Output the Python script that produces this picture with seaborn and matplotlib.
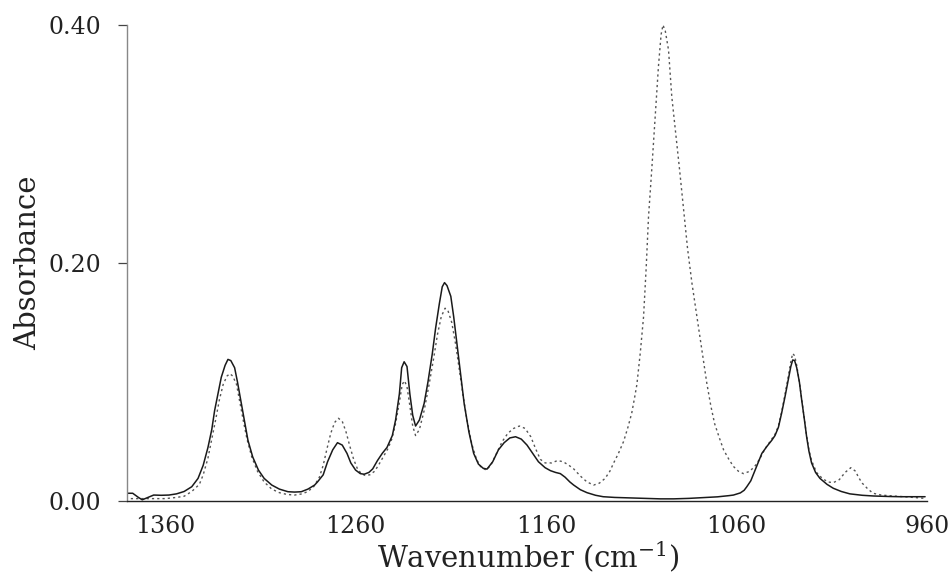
import matplotlib
matplotlib.use("Agg")
import matplotlib.pyplot as plt
from matplotlib.ticker import FixedLocator, MultipleLocator
import seaborn as sns
import pandas as pd

# ---- data ----
wn_solid = [1380, 1377, 1374, 1372, 1369, 1366, 1362, 1358, 1354, 1350, 1346, 1342.7, 1340,
            1337.5, 1335.5, 1334, 1332, 1330.5, 1328.5, 1327, 1325.5, 1323.5, 1322, 1320, 1318,
            1316.5, 1314, 1311, 1308, 1304, 1300, 1295.5, 1292, 1288.5, 1285, 1281.5, 1280,
            1277, 1274.7, 1272, 1269.5, 1267, 1264.5, 1262.5, 1260, 1257.5, 1255.5, 1253, 1251,
            1248.5, 1246, 1243.5, 1240.7, 1239, 1237, 1235.8, 1234.5, 1233, 1231.5, 1230,
            1228.5, 1226.5, 1224, 1222, 1219.7, 1218, 1216, 1214.5, 1213.3, 1212, 1210, 1208.5,
            1207, 1205, 1203, 1200.5, 1198, 1195.5, 1193, 1191, 1188, 1185, 1182, 1179, 1176,
            1173, 1170, 1167, 1164, 1160.5, 1157.7, 1155, 1152.5, 1150, 1147.5, 1145.5, 1142,
            1138.5, 1134, 1130, 1124, 1116, 1108, 1100, 1093, 1085, 1078, 1070, 1064, 1061.6,
            1058, 1056, 1054.6, 1052.5, 1051, 1049, 1046.7, 1044, 1041.5, 1039.8, 1038, 1036.3,
            1034.5, 1032.8, 1031.5, 1030.5, 1029.5, 1028.4, 1027, 1025.8, 1024.5, 1023.2, 1022,
            1020.6, 1018.5, 1016.2, 1012.5, 1009.2, 1005, 1000.5, 994, 988, 980, 974, 967, 961]
abs_solid = [0.0065, 0.0065, 0.003, 0.001, 0.003, 0.005, 0.0048, 0.005, 0.006, 0.008, 0.012,
             0.019, 0.030, 0.045, 0.060, 0.076, 0.092, 0.104, 0.114, 0.119, 0.118, 0.112, 0.100,
             0.082, 0.064, 0.051, 0.037, 0.026, 0.019, 0.0134, 0.010, 0.0078, 0.0075, 0.0078,
             0.010, 0.0134, 0.016, 0.022, 0.033, 0.043, 0.049, 0.047, 0.040, 0.032, 0.026, 0.023,
             0.0225, 0.024, 0.027, 0.034, 0.040, 0.045, 0.055, 0.068, 0.090, 0.112, 0.117, 0.113,
             0.090, 0.072, 0.063, 0.068, 0.082, 0.100, 0.124, 0.145, 0.166, 0.180, 0.1835, 0.181,
             0.172, 0.155, 0.135, 0.108, 0.082, 0.058, 0.040, 0.031, 0.0275, 0.0268, 0.033, 0.043,
             0.049, 0.053, 0.054, 0.052, 0.047, 0.040, 0.033, 0.028, 0.0255, 0.024, 0.023, 0.020,
             0.016, 0.0134, 0.0095, 0.007, 0.0048, 0.0036, 0.003, 0.0026, 0.0022, 0.0018, 0.0018,
             0.0022, 0.0028, 0.0035, 0.0045, 0.005, 0.0068, 0.009, 0.012, 0.017, 0.023, 0.031,
             0.040, 0.046, 0.051, 0.055, 0.062, 0.074, 0.088, 0.102, 0.113, 0.1185, 0.118, 0.112,
             0.100, 0.085, 0.070, 0.054, 0.042, 0.032, 0.024, 0.019, 0.014, 0.0107, 0.008, 0.006,
             0.0048, 0.0042, 0.0038, 0.0036, 0.0036, 0.0036]

wn_dotted = [1378, 1372, 1366, 1360, 1354, 1350, 1346, 1342, 1340, 1337.5, 1335.5, 1333.5,
             1331.5, 1329.5, 1327.5, 1326, 1324.5, 1322.5, 1321, 1319, 1317, 1314.5, 1311.5,
             1308, 1304, 1300, 1296, 1292, 1288, 1285, 1282, 1279, 1277, 1275, 1273, 1271, 1269,
             1267, 1265, 1263, 1261, 1259, 1257, 1255, 1252.5, 1250, 1248, 1245.5, 1243, 1241,
             1239, 1237, 1235.5, 1234.3, 1233, 1231.5, 1230, 1228.5, 1226.5, 1224, 1221.5, 1219,
             1217, 1215, 1213, 1211.5, 1209.5, 1207.5, 1205.5, 1203.5, 1201.5, 1199, 1196.5,
             1194.4, 1191.5, 1189, 1186, 1183, 1180, 1177, 1174, 1171, 1168, 1165.5, 1163, 1160.5,
             1157, 1154, 1151, 1148, 1145.5, 1142, 1138.5, 1135, 1132, 1129, 1126.5, 1124.5, 1122,
             1119.3, 1117, 1115, 1113.5, 1112.3, 1110.5, 1108.8, 1107.4, 1106.2, 1104.4, 1102.7,
             1101, 1099.6, 1098.6, 1097.4, 1095.7, 1094, 1092, 1090, 1087.8, 1085.7, 1083.4,
             1080.8, 1078.2, 1075.6, 1073.5, 1071.5, 1069, 1066.8, 1064, 1061.6, 1059, 1056.4,
             1053, 1050, 1047.6, 1045, 1042, 1039.8, 1038, 1036.3, 1034.5, 1032.8, 1031.5, 1030.5,
             1029.5, 1028.4, 1027, 1025.8, 1024.5, 1023.2, 1022, 1020.6, 1018, 1015, 1012, 1009.2,
             1006, 1003, 1000, 997.5, 996, 994, 991, 988.3, 984, 978, 972, 966, 961]
abs_dotted = [0.002, 0.002, 0.002, 0.002, 0.003, 0.004, 0.008, 0.014, 0.022, 0.036, 0.052,
              0.068, 0.085, 0.098, 0.105, 0.107, 0.105, 0.098, 0.085, 0.068, 0.052, 0.037, 0.025,
              0.016, 0.010, 0.007, 0.0055, 0.005, 0.006, 0.008, 0.012, 0.020, 0.030, 0.044, 0.057,
              0.066, 0.0695, 0.067, 0.058, 0.046, 0.035, 0.027, 0.023, 0.0215, 0.022, 0.025, 0.030,
              0.037, 0.044, 0.052, 0.065, 0.083, 0.098, 0.101, 0.096, 0.080, 0.063, 0.055, 0.060,
              0.076, 0.097, 0.120, 0.140, 0.155, 0.162, 0.160, 0.150, 0.132, 0.110, 0.088, 0.068,
              0.048, 0.035, 0.029, 0.026, 0.030, 0.040, 0.050, 0.057, 0.061, 0.063, 0.061, 0.054,
              0.044, 0.035, 0.032, 0.032, 0.034, 0.033, 0.030, 0.027, 0.021, 0.016, 0.0134, 0.015,
              0.019, 0.025, 0.032, 0.040, 0.050, 0.062, 0.074, 0.087, 0.098, 0.125, 0.155, 0.197,
              0.239, 0.281, 0.323, 0.365, 0.392, 0.400, 0.395, 0.379, 0.340, 0.310, 0.280, 0.245,
              0.212, 0.183, 0.155, 0.127, 0.099, 0.080, 0.065, 0.053, 0.043, 0.035, 0.029, 0.025,
              0.023, 0.025, 0.030, 0.036, 0.044, 0.051, 0.056, 0.063, 0.075, 0.090, 0.105, 0.117,
              0.124, 0.122, 0.114, 0.100, 0.086, 0.070, 0.055, 0.043, 0.034, 0.024, 0.019, 0.016,
              0.0154, 0.018, 0.024, 0.028, 0.025, 0.020, 0.015, 0.010, 0.0065, 0.005, 0.0042,
              0.0036, 0.0028, 0.0022]

x_ticks = [1360, 1260, 1160, 1060, 960]
x_tick_labels = ["1360", "1260", "1160", "1060", "960"]
y_ticks = [0.00, 0.20, 0.40]
y_tick_labels = ["0.00", "0.20", "0.40"]

# ---- plotting ----
sns.set_theme(style="white")
plt.rcParams["font.family"] = ["DejaVu Serif", "DejaVu Sans"]
plt.rcParams["mathtext.fontset"] = "dejavuserif"

fig = plt.figure(figsize=(9.52, 5.73), dpi=100)
ax = fig.add_axes([127 / 952, 1 - 501 / 573, 800 / 952, 476 / 573])

df_s = pd.DataFrame({"wn": wn_solid, "A": abs_solid})
df_d = pd.DataFrame({"wn": wn_dotted, "A": abs_dotted})
sns.lineplot(data=df_d, x="wn", y="A", ax=ax, sort=False, estimator=None,
             color="#555555", lw=1.0, linestyle=(0, (1.6, 2.2)))
sns.lineplot(data=df_s, x="wn", y="A", ax=ax, sort=False, estimator=None,
             color="#1a1a1a", lw=1.1)

ax.set_xlim(1380, 960)
ax.set_ylim(0, 0.40)
ax.xaxis.set_major_locator(FixedLocator(x_ticks))
ax.set_xticklabels(x_tick_labels)
ax.xaxis.set_minor_locator(MultipleLocator(10))
ax.yaxis.set_major_locator(FixedLocator(y_ticks))
ax.set_yticklabels(y_tick_labels)

for s in ["top", "right"]:
    ax.spines[s].set_visible(False)
ax.spines["left"].set_color("#888888")
ax.spines["left"].set_linewidth(1.0)
ax.spines["bottom"].set_color("#222222")
ax.spines["bottom"].set_linewidth(1.0)

ax.tick_params(axis="x", which="major", direction="out", length=5, width=0.9,
               color="#444444", pad=5, labelsize=17, labelcolor="#222222")
ax.tick_params(axis="x", which="minor", direction="out", length=3.5, width=0.8,
               color="#555555")
ax.tick_params(axis="y", which="major", direction="out", length=6.5, width=0.9,
               color="#444444", pad=12, labelsize=17, labelcolor="#222222", left=True)
ax.set_xlabel("")
ax.set_ylabel("")

fig.text(528 / 952, 1 - 567 / 573, "Wavenumber (cm$^{-1}$)", ha="center", va="baseline",
         fontsize=21, color="#222222")
fig.text(28 / 952, 1 - 263 / 573, "Absorbance", ha="center", va="center", rotation=90,
         fontsize=21, color="#222222")

fig.savefig("out.png", dpi=100)
